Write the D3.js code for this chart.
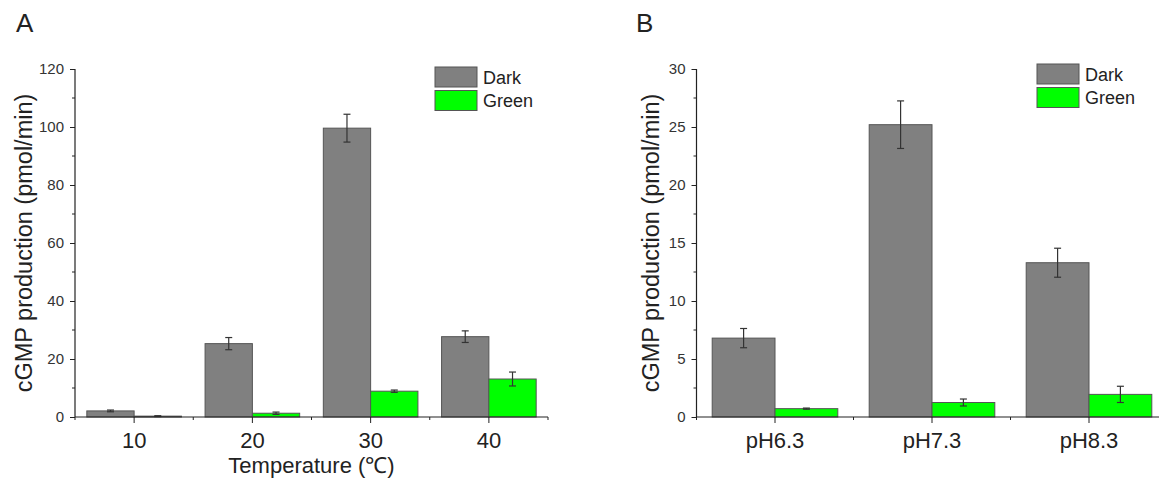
<!DOCTYPE html>
<html><head><meta charset="utf-8">
<script src="https://cdn.jsdelivr.net/npm/d3@7"></script>
<style>body{margin:0;background:#fff}svg{display:block}text{font-family:"Liberation Sans",Arial,sans-serif}</style>
</head><body>
<svg id="c" width="1159" height="479"></svg>
<script>
// ---- Data ----
const seriesNames = ["Dark", "Green"];
const seriesColors = ["#808080", "#00ff00"];

const tempCategories = ["10", "20", "30", "40"];
const tempDark = [2.1, 25.3, 99.6, 27.7];
const tempDarkErr = [0.3, 2.1, 4.8, 2.0];
const tempGreen = [0.3, 1.3, 8.9, 13.1];
const tempGreenErr = [0.15, 0.4, 0.4, 2.4];
const tempYTicks = [0, 20, 40, 60, 80, 100, 120];

const phCategories = ["pH6.3", "pH7.3", "pH8.3"];
const phDark = [6.8, 25.2, 13.3];
const phDarkErr = [0.83, 2.05, 1.25];
const phGreen = [0.72, 1.25, 1.95];
const phGreenErr = [0.05, 0.3, 0.7];
const phYTicks = [0, 5, 10, 15, 20, 25, 30];

const svg = d3.select("#c");

function panel(o) {
  const g = svg.append("g");
  const x = d3.scaleBand().domain(o.cats).range([o.x0, o.x1]).paddingInner(0).paddingOuter(0);
  const xs = d3.scaleBand().domain(seriesNames).range([0, x.bandwidth()]).paddingInner(0).paddingOuter(0.25);
  const y = d3.scaleLinear().domain([0, o.ymax]).range([o.y0, o.y1]);
  const vals = [o.dark, o.green], errs = [o.darkErr, o.greenErr];

  // bars
  seriesNames.forEach((s, si) => {
    const data = o.cats.map((c, i) => ({c, v: vals[si][i], e: errs[si][i]}));
    g.selectAll(null).data(data).enter().append("rect")
      .attr("x", d => x(d.c) + xs(s)).attr("width", xs.bandwidth())
      .attr("y", d => y(d.v)).attr("height", d => y(0) - y(d.v))
      .attr("fill", seriesColors[si]).attr("stroke", "#555").attr("stroke-width", 1);
    const eg = g.selectAll(null).data(data).enter().append("g").attr("stroke", "#333").attr("stroke-width", 1.2);
    const cx = d => x(d.c) + xs(s) + xs.bandwidth() / 2;
    eg.append("line").attr("x1", cx).attr("x2", cx).attr("y1", d => y(d.v - d.e)).attr("y2", d => y(d.v + d.e));
    eg.append("line").attr("x1", d => cx(d) - 3.5).attr("x2", d => cx(d) + 3.5).attr("y1", d => y(d.v + d.e)).attr("y2", d => y(d.v + d.e));
    eg.append("line").attr("x1", d => cx(d) - 3.5).attr("x2", d => cx(d) + 3.5).attr("y1", d => y(d.v - d.e)).attr("y2", d => y(d.v - d.e));
  });

  // y axis
  const ya = g.append("g").attr("transform", `translate(${o.x0},0)`)
    .call(d3.axisLeft(y).tickValues(o.yticks).tickSize(5).tickPadding(6).tickFormat(d3.format("d")));
  ya.select(".domain").attr("stroke", "#222").attr("stroke-width", 1.2).attr("d", `M0,${o.y0}V${o.y1}`);
  ya.selectAll(".tick line").attr("stroke", "#222");
  ya.selectAll(".tick text").attr("font-size", 15).attr("fill", "#333").attr("font-family", "Liberation Sans, Arial, sans-serif");
  const step = o.yticks[1] - o.yticks[0];
  const minor = o.yticks.slice(0, -1).map(t => t + step / 2);
  g.selectAll(null).data(minor).enter().append("line")
    .attr("x1", o.x0 - 3).attr("x2", o.x0).attr("y1", d => y(d)).attr("y2", d => y(d)).attr("stroke", "#222");

  // x axis
  const xa = g.append("g").attr("transform", `translate(0,${o.y0})`)
    .call(d3.axisBottom(x).tickSize(6).tickPadding(9));
  xa.select(".domain").attr("stroke", "#222").attr("stroke-width", 1.2).attr("d", `M${o.x0},0H${o.x1}`);
  xa.selectAll(".tick line").attr("stroke", "#222");
  xa.selectAll(".tick text").attr("font-size", 22).attr("fill", "#222").attr("font-family", "Liberation Sans, Arial, sans-serif");
  const bounds = o.cats.map(c => x(c)).concat([o.x1]);
  g.selectAll(null).data(bounds).enter().append("line")
    .attr("x1", d => d).attr("x2", d => d).attr("y1", o.y0).attr("y2", o.y0 + 3).attr("stroke", "#222");

  // y title
  g.append("text").attr("transform", `translate(${o.ytx},${(o.y0 + o.y1) / 2 - 0}) rotate(-90)`)
    .attr("text-anchor", "middle").attr("dominant-baseline", "central")
    .attr("font-size", 23.5).attr("fill", "#222").text("cGMP production (pmol/min)");

  // x title
  if (o.xtitle) {
    const t = g.append("text").attr("x", (o.x0 + o.x1) / 2).attr("y", 473).attr("text-anchor", "middle")
      .attr("font-size", 22).attr("fill", "#222");
    t.append("tspan").text("Temperature (");
    t.append("tspan").attr("font-family", "Liberation Serif, serif").text("℃");
    t.append("tspan").text(")");
  }

  // panel label
  g.append("text").attr("x", o.lx).attr("y", 32).attr("font-size", 26).attr("font-weight", 300)
    .attr("font-family", "Noto Sans, DejaVu Sans, sans-serif").attr("fill", "#222").text(o.label);

  // legend
  const lg = g.append("g").attr("transform", `translate(${o.legX},${o.legY})`);
  lg.append("rect").attr("x", -1).attr("y", -1).attr("width", 104).attr("height", 46).attr("fill", "#fff");
  seriesNames.forEach((s, i) => {
    lg.append("rect").attr("x", 0).attr("y", i * 23.5).attr("width", 42).attr("height", 20)
      .attr("fill", seriesColors[i]).attr("stroke", "#555");
    lg.append("text").attr("x", 48).attr("y", i * 23.5 + 16.5).attr("font-size", 18).attr("fill", "#222").text(s);
  });
}

panel({cats: tempCategories, dark: tempDark, darkErr: tempDarkErr, green: tempGreen, greenErr: tempGreenErr,
  ymax: 120, yticks: tempYTicks, x0: 75, x1: 548, y0: 417, y1: 69, ytx: 24, xtitle: true, label: "A", lx: 16,
  legX: 435, legY: 67});
panel({cats: phCategories, dark: phDark, darkErr: phDarkErr, green: phGreen, greenErr: phGreenErr,
  ymax: 30, yticks: phYTicks, x0: 696.5, x1: 1167.5, y0: 417, y1: 69, ytx: 651, xtitle: false, label: "B", lx: 636,
  legX: 1037, legY: 64});
</script>
</body></html>
